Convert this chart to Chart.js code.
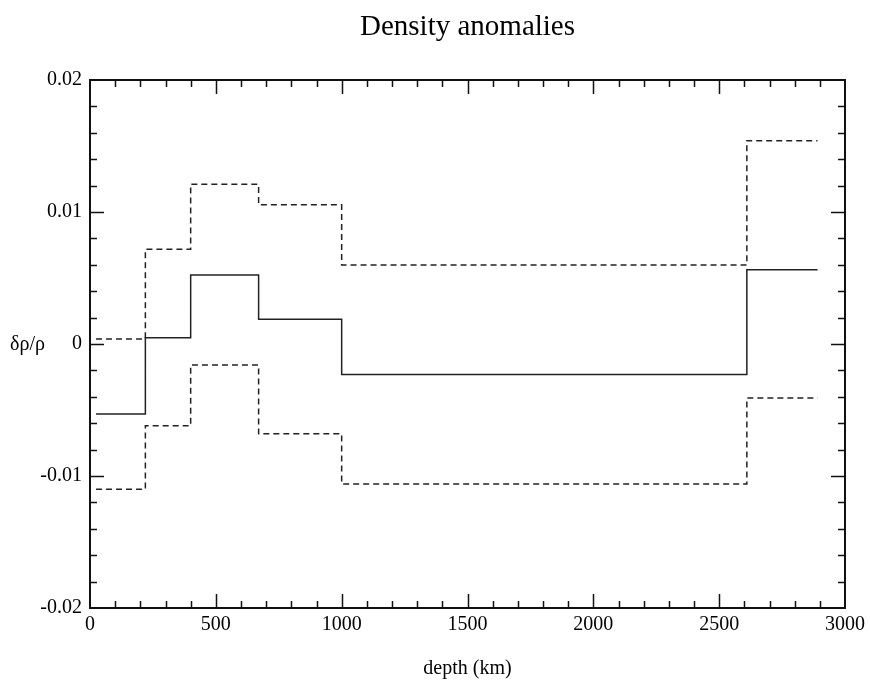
<!DOCTYPE html>
<html>
<head>
<meta charset="utf-8">
<script src="https://cdn.jsdelivr.net/npm/chart.js@4"></script>
<style>
  body { margin: 0; background: #fff; }
  canvas { display: block; }
</style>
</head>
<body>
<canvas id="densityChart" width="870" height="682"></canvas>
<script>
// layer boundaries (km) and anomaly per layer
const depthEdges = [24, 220, 400, 670, 1000, 2610, 2891];
const meanAnomaly = [-0.0053, 0.00048, 0.00523, 0.00187, -0.00232, 0.00563];
const upperAnomaly = [0.00038, 0.00717, 0.0121, 0.01055, 0.00598, 0.0154];
const lowerAnomaly = [-0.011, -0.0062, -0.0016, -0.0068, -0.0106, -0.0041];
const yTickLabels = { "0.02": "0.02", "0.01": "0.01", "0": "0", "-0.01": "-0.01", "-0.02": "-0.02" };

const serif = "'Liberation Serif', 'DejaVu Serif', serif";

function steps(values) {
  return depthEdges.map((d, i) => ({ x: d, y: values[Math.min(i, values.length - 1)] }));
}

// frame, inward ticks on all sides, and the unrotated y label
const frameTicks = {
  id: "frameTicks",
  afterDraw(chart) {
    const ctx = chart.ctx;
    const a = chart.chartArea;
    const xs = chart.scales.x;
    const ys = chart.scales.y;
    ctx.save();
    ctx.strokeStyle = "#111";
    ctx.lineWidth = 2;
    ctx.strokeRect(a.left, a.top, a.right - a.left, a.bottom - a.top);
    ctx.lineWidth = 1.5;
    ctx.beginPath();
    for (let v = 100; v < 3000; v += 100) {
      const px = Math.round(xs.getPixelForValue(v)) + 0.5;
      const len = v % 500 === 0 ? 14 : 7;
      ctx.moveTo(px, a.bottom); ctx.lineTo(px, a.bottom - len);
      ctx.moveTo(px, a.top); ctx.lineTo(px, a.top + len);
    }
    for (let k = -9; k <= 9; k++) {
      const v = k * 0.002;
      const py = Math.round(ys.getPixelForValue(v)) + 0.5;
      const len = k % 5 === 0 ? 14 : 7;
      ctx.moveTo(a.left, py); ctx.lineTo(a.left + len, py);
      ctx.moveTo(a.right, py); ctx.lineTo(a.right - len, py);
    }
    ctx.stroke();
    ctx.fillStyle = "#000";
    ctx.font = "20px " + serif;
    ctx.textAlign = "left";
    ctx.textBaseline = "middle";
    ctx.fillText("δρ/ρ", 10, ys.getPixelForValue(0) + 1);
    ctx.restore();
  }
};

const lineStyle = { borderColor: "#222", borderWidth: 1.5, pointRadius: 0, stepped: true, fill: false };

new Chart(document.getElementById("densityChart"), {
  type: "line",
  data: {
    datasets: [
      { label: "mean", data: steps(meanAnomaly), ...lineStyle },
      { label: "upper", data: steps(upperAnomaly), ...lineStyle, borderDash: [6, 4] },
      { label: "lower", data: steps(lowerAnomaly), ...lineStyle, borderDash: [6, 4] }
    ]
  },
  options: {
    responsive: false,
    animation: false,
    layout: { padding: { left: 0, right: 24, top: 0, bottom: 0 } },
    plugins: {
      legend: { display: false },
      tooltip: { enabled: false },
      title: {
        display: true,
        fullSize: false,
        text: "Density anomalies",
        color: "#000",
        font: { family: serif, size: 29, weight: "normal", lineHeight: 1.2 },
        padding: { top: 10, bottom: 35.2 }
      }
    },
    scales: {
      x: {
        type: "linear",
        min: 0,
        max: 3000,
        grid: { display: false, drawTicks: false },
        border: { display: false },
        ticks: {
          stepSize: 500,
          color: "#000",
          padding: 5,
          maxRotation: 0,
          font: { family: serif, size: 20 },
          callback: (v) => String(v)
        },
        title: {
          display: true,
          text: "depth (km)",
          color: "#000",
          font: { family: serif, size: 20, lineHeight: 1.2 },
          padding: { top: 0, bottom: 1 }
        },
        afterFit(scale) { scale.height = 74; }
      },
      y: {
        min: -0.02,
        max: 0.02,
        grid: { display: false, drawTicks: false },
        border: { display: false },
        ticks: {
          stepSize: 0.01,
          color: "#000",
          padding: 8,
          font: { family: serif, size: 20 },
          callback: (v) => yTickLabels[String(Math.round(v * 100) / 100)] ?? ""
        },
        afterFit(scale) { scale.width = 90; }
      }
    }
  },
  plugins: [frameTicks]
});
</script>
</body>
</html>
